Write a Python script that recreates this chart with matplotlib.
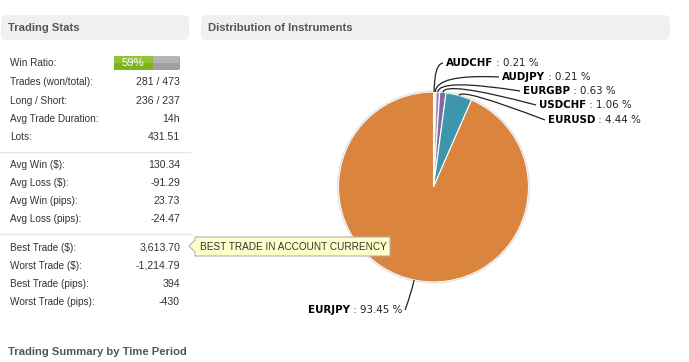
import numpy as np
import matplotlib.pyplot as plt
from matplotlib.patches import FancyBboxPatch, Rectangle, Polygon, PathPatch
from matplotlib.path import Path

# ---- data ----
stat_labels = ["Win Ratio:", "Trades (won/total):", "Long / Short:", "Avg Trade Duration:", "Lots:",
               "Avg Win ($):", "Avg Loss ($):", "Avg Win (pips):", "Avg Loss (pips):",
               "Best Trade ($):", "Worst Trade ($):", "Best Trade (pips):", "Worst Trade (pips):"]
stat_values = [None, "281 / 473", "236 / 237", "14h", "431.51",
               "130.34", "-91.29", "23.73", "-24.47",
               "3,613.70", "-1,214.79", "394", "-430"]
win_ratio = 59

instruments = ["AUDCHF", "AUDJPY", "EURGBP", "USDCHF", "EURUSD", "EURJPY"]
shares = [0.21, 0.21, 0.63, 1.06, 4.44, 93.45]
colors = ["#f0d8cc", "#8fbf5a", "#a08cc0", "#80699b", "#3d96ae", "#db843d"]

# ---- layout (pixels) ----
W, H = 689, 362
fig = plt.figure(figsize=(W / 100, H / 100), dpi=100)
ax = fig.add_axes([0, 0, 1, 1])

cx, cy, R = 433.5, 187, 95
ax.pie(shares, colors=colors, radius=R, center=(cx, cy), startangle=-90, counterclock=True,
       wedgeprops=dict(edgecolor="white", linewidth=0.8))
# faint outer rim like the original's shadow
ax.add_patch(plt.Circle((cx, cy), R + 0.8, fc="none", ec="#e4e4e4", lw=1.0))
ax.set_xlim(0, W)
ax.set_ylim(H, 0)
ax.set_aspect("auto")
ax.axis("off")

font = "Liberation Sans"

# header boxes
for x0, x1, title in [(1, 189, "Trading Stats"), (201, 670, "Distribution of Instruments")]:
    ax.add_patch(FancyBboxPatch((x0 + 4, 19), x1 - x0 - 8, 17, boxstyle="round,pad=4,rounding_size=6",
                                fc="#f0f0f0", ec="none"))
    ax.text(x0 + 7, 28, title, fontsize=8.1, fontweight="bold", color="#555555", family=font,
            va="center", ha="left")

# stats rows
row_y = [63, 82, 101, 119, 137, 165, 183, 201, 219, 248, 266, 284, 302]
for lab, val, y in zip(stat_labels, stat_values, row_y):
    ax.text(10, y, lab, fontsize=7.2, color="#333333", family=font, va="center", ha="left")
    if val is not None:
        ax.text(180, y, val, fontsize=7.6, color="#333333", family=font, va="center", ha="right")

for y in [152, 234]:
    ax.plot([0, 190], [y, y], color="#e6e6e6", lw=1)

# win ratio bar
bx0, bx1, by0, by1 = 114, 180, 56, 70
split = bx0 + (bx1 - bx0) * win_ratio / 100
ax.add_patch(FancyBboxPatch((bx0 + 1, by0 + 1), bx1 - bx0 - 2, by1 - by0 - 2,
                            boxstyle="round,pad=1,rounding_size=2", fc="#a0a0a0", ec="none"))
ax.add_patch(Rectangle((split, by0), bx1 - split - 1, (by1 - by0) / 2, fc="#b4b4b4", ec="none"))
ax.add_patch(Rectangle((bx0, by0), split - bx0, by1 - by0, fc="#7fb21f", ec="none"))
ax.add_patch(Rectangle((bx0, by0), split - bx0, (by1 - by0) / 2, fc="#92c236", ec="none"))
ax.text((bx0 + split) / 2, (by0 + by1) / 2, f"{win_ratio}%", fontsize=8.2, color="white",
        family=font, va="center", ha="center")

# tooltip
tip = Polygon([(189, 246), (195, 240), (195, 237), (390, 237), (390, 256), (195, 256), (195, 252)],
              closed=True, fc="#ffffcc", ec="#b0b0b0", lw=0.8)
ax.add_patch(tip)
ax.text(200, 246.5, "BEST TRADE IN ACCOUNT CURRENCY", fontsize=7.2, color="#333333",
        family=font, va="center", ha="left")

ax.text(8, 352, "Trading Summary by Time Period", fontsize=8.1, fontweight="bold",
        color="#555555", family=font, va="center", ha="left")

# pie labels with connectors
label_pos = {"AUDCHF": (446, 63, 28), "AUDJPY": (502, 77, 18), "EURGBP": (523, 91, 14),
             "USDCHF": (539, 105, 12), "EURUSD": (548, 120, 8), "EURJPY": (402, 310, 14)}
cum = np.cumsum([0] + shares[:-1])
fig.canvas.draw()
rend = fig.canvas.get_renderer()
inv = ax.transData.inverted()
fs = 7.4
for name, share, start in zip(instruments, shares, cum):
    mid = np.deg2rad((start + share / 2) / 100 * 360)
    dx, dy = np.sin(mid), -np.cos(mid)
    p0 = (cx + R * dx, cy + R * dy)
    lx, ly, ext = label_pos[name]
    p1 = (cx + (R + ext) * dx, cy + (R + ext) * dy)
    right_side = dx >= 0 and name != "EURJPY"
    anchor = (lx - 3, ly) if right_side else (lx + 3, ly)
    path = Path([p0, p1, anchor], [Path.MOVETO, Path.CURVE3, Path.CURVE3])
    ax.add_patch(PathPatch(path, fc="none", ec="#222222", lw=0.9))
    rest = f" : {share:.2f} %"
    if right_side:
        t = ax.text(lx, ly, name, fontsize=fs, fontweight="bold", family="DejaVu Sans",
                    va="center", ha="left", color="black")
        bb = t.get_window_extent(rend)
        xe = inv.transform((bb.x1, 0))[0]
        ax.text(xe, ly, rest, fontsize=fs, family="DejaVu Sans", va="center", ha="left",
                color="#222222")
    else:
        t = ax.text(lx, ly, rest, fontsize=fs, family="DejaVu Sans", va="center", ha="right",
                    color="#222222")
        bb = t.get_window_extent(rend)
        xs = inv.transform((bb.x0, 0))[0]
        ax.text(xs, ly, name, fontsize=fs, fontweight="bold", family="DejaVu Sans",
                va="center", ha="right", color="black")

fig.savefig("out.png", dpi=100)
